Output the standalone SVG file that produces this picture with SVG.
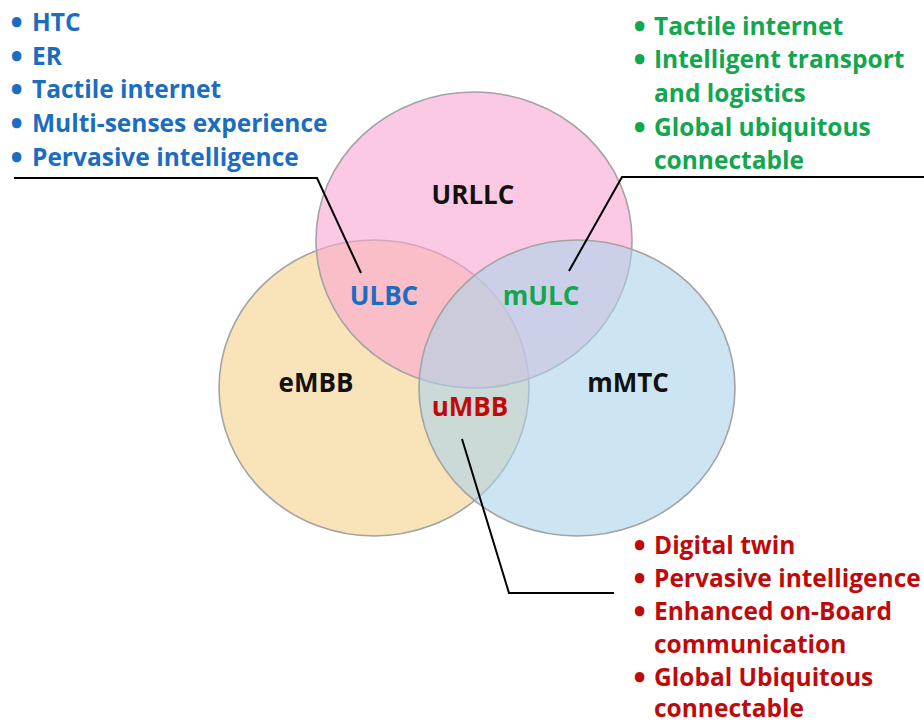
<svg xmlns="http://www.w3.org/2000/svg" width="924" height="724" viewBox="0 0 924 724">
<style>
text{font-family:"Open Sans",Lato,"Liberation Sans",sans-serif;font-weight:700}
.lst{font-size:24.5px}
.b{stroke-width:2.6;stroke-linejoin:round}
.blue .b{stroke:#1A6DBF}
.green .b{stroke:#12A64F}
.red .b{stroke:#BF0A0A}
.lbl{font-size:26px;text-anchor:middle}
.blue{fill:#1A6DBF}
.green{fill:#12A64F}
.red{fill:#BF0A0A}
.blk{fill:#111}
.venn{fill-opacity:0.6;stroke:#A3A3A3;stroke-width:1.6}
.conn{fill:none;stroke:#000;stroke-width:2}
</style>
<rect width="924" height="724" fill="#fff"/>
<g id="eMBB">
<ellipse class="venn" cx="374" cy="388" rx="155" ry="148" fill="#F5D089"/>
<text class="lbl blk" x="316" y="392">eMBB</text>
</g>
<g id="URLLC">
<ellipse class="venn" cx="474" cy="240" rx="158" ry="148" fill="#F8A5D2"/>
<text class="lbl blk" x="473" y="204">URLLC</text>
</g>
<g id="mMTC">
<ellipse class="venn" cx="577" cy="388" rx="158" ry="148" fill="#ACD4EA"/>
<text class="lbl blk" x="628" y="392">mMTC</text>
</g>
<g id="ULBC"><text class="lbl blue" x="384" y="305">ULBC</text></g>
<g id="mULC"><text class="lbl green" x="541" y="305">mULC</text></g>
<g id="uMBB"><text class="lbl red" x="470" y="416">uMBB</text></g>
<g id="connectors">
<polyline class="conn" points="14,178 317,178 361,273"/>
<polyline class="conn" points="924,177 622,177 569,271"/>
<polyline class="conn" points="462,439 509,593 614,593"/>
</g>
<g id="ULBC-list" class="lst blue">
<text x="12" y="31"><tspan class="b">•</tspan><tspan x="32">HTC</tspan></text>
<text x="12" y="64.5"><tspan class="b">•</tspan><tspan x="32">ER</tspan></text>
<text x="12" y="98"><tspan class="b">•</tspan><tspan x="32">Tactile internet</tspan></text>
<text x="12" y="132"><tspan class="b">•</tspan><tspan x="32">Multi-senses experience</tspan></text>
<text x="12" y="166"><tspan class="b">•</tspan><tspan x="32">Pervasive intelligence</tspan></text>
</g>
<g id="mULC-list" class="lst green">
<text x="635" y="35"><tspan class="b">•</tspan><tspan x="654">Tactile internet</tspan></text>
<text x="635" y="68"><tspan class="b">•</tspan><tspan x="654">Intelligent transport</tspan></text>
<text x="654" y="102">and logistics</text>
<text x="635" y="136"><tspan class="b">•</tspan><tspan x="654">Global ubiquitous</tspan></text>
<text x="654" y="169">connectable</text>
</g>
<g id="uMBB-list" class="lst red">
<text x="635" y="554"><tspan class="b">•</tspan><tspan x="654">Digital twin</tspan></text>
<text x="635" y="587"><tspan class="b">•</tspan><tspan x="654">Pervasive intelligence</tspan></text>
<text x="635" y="620"><tspan class="b">•</tspan><tspan x="654">Enhanced on-Board</tspan></text>
<text x="654" y="653">communication</text>
<text x="635" y="686"><tspan class="b">•</tspan><tspan x="654">Global Ubiquitous</tspan></text>
<text x="654" y="717">connectable</text>
</g>
</svg>
